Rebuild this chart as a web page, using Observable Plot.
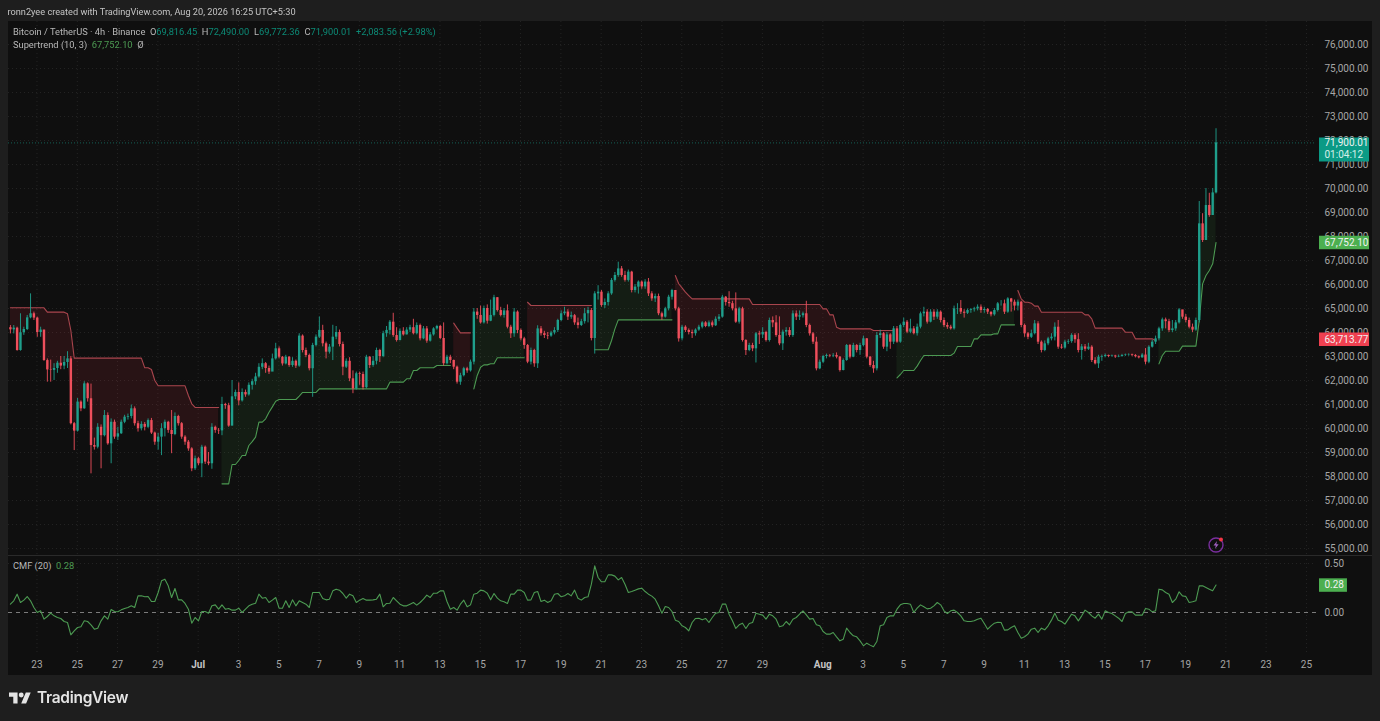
<!DOCTYPE html>
<html><head><meta charset="utf-8"><title>Bitcoin / TetherUS</title>
<script src="https://cdn.jsdelivr.net/npm/d3@7"></script>
<script src="https://cdn.jsdelivr.net/npm/@observablehq/plot@0.6"></script>
<style>
html,body{margin:0;padding:0;background:#1e1e1e;overflow:hidden}
#root{position:relative;width:1380px;height:721px;font-family:Roboto,sans-serif;color:#b8b8b8;font-size:9.3px;filter:blur(.3px)}
#pane{position:absolute;left:7.5px;top:21px;width:1364.5px;height:654px;background:#0f0f0f}
#sep{position:absolute;left:7.5px;top:555px;width:1364.5px;height:1px;background:#2a2a2a}
.plotbox{position:absolute;left:0}
.plotbox svg{display:block}
.t{position:absolute;white-space:pre;line-height:12px}
.g{color:#0c8a76}.s{color:#4c9a52}
#brand{position:absolute;left:37px;top:688px;font:600 15.5px Inter,Roboto,sans-serif;color:#e4e4e4;letter-spacing:-.3px;line-height:20px}
</style></head><body>
<div id="root">
  <div id="pane"></div>
  <div class="plotbox" id="mainBox" style="top:0"></div>
  <div class="plotbox" id="cmfBox" style="top:555px"></div>
  <div id="sep"></div>
  <div class="t" style="left:7.5px;top:5.5px;color:#c4c4c4;font-size:9.2px">ronn2yee created with TradingView.com, Aug 20, 2026 16:25 UTC+5:30</div>
  <div class="t" style="left:13px;top:25.5px">Bitcoin / TetherUS · 4h · Binance  O<span class="g">69,816.45</span>  H<span class="g">72,490.00</span>  L<span class="g">69,772.36</span>  C<span class="g">71,900.01</span>  <span class="g">+2,083.56 (+2.98%)</span></div>
  <div class="t" style="left:13px;top:38.5px">Supertrend (10, 3)  <span class="s">67,752.10</span>  Ø</div>
  <div class="t" style="left:13px;top:560px">CMF (20)  <span class="s">0.28</span></div>
  <svg style="position:absolute;left:9px;top:692px" width="22" height="12" viewBox="0 4 36 18"><path fill="#e4e4e4" d="M14 22H7V11H0V4h14v18zM28 22h-8l7.5-18h8L28 22z"/><circle fill="#e4e4e4" cx="20" cy="8" r="4"/></svg>
  <div id="brand">TradingView</div>
  <svg style="position:absolute;left:1206px;top:535px" width="20" height="20" viewBox="0 0 20 20"><circle cx="10" cy="10" r="7" fill="none" stroke="#7a2f9e" stroke-width="1.4"/><path d="M11 6 7.5 10.6h2.3L9 14l3.6-4.8h-2.3z" fill="#a060c0"/><circle cx="15" cy="4.5" r="2" fill="#f23645"/></svg>
</div>
<script>
const firstOpen = 64200;
const closes = [
64110,64180,63250,63990,64125,64610,64780,64600,64000,64100,
62830,62440,62420,62500,62720,62600,62750,62900,60200,59890,
61100,60820,61860,61240,59290,59220,60050,59700,60540,59360,
60260,59640,59780,60260,60470,60500,60820,60200,59990,60170,
60050,60330,59810,59430,59640,59990,60260,59920,59750,60500,
60200,59640,59430,59150,58320,58740,58530,59220,58600,58530,
60050,59920,59900,61000,60950,60100,61320,61500,61150,61500,
61400,61800,61950,62150,62550,62700,62500,62350,62900,63320,
62970,62690,62970,62625,62800,62600,63850,63250,63040,62490,
63460,63805,64085,63530,63180,63390,63805,64000,63500,62555,
62800,62070,61650,62280,62250,61700,62970,62625,62800,63250,
63000,63950,64085,64430,63875,63665,64050,63900,64100,64200,
63950,64290,63735,64150,63640,63900,64150,64250,63750,62700,
62970,62835,62555,61930,62200,62490,62400,62765,64850,64710,
64400,65000,64470,64710,65450,64915,64710,64900,64220,63945,
64850,64085,63735,63460,62765,63250,62695,64150,63950,63875,
63850,63980,64085,64500,64780,64850,64640,64700,64400,64290,
64450,64780,64915,63750,65610,65680,65125,65250,65610,66170,
66375,66650,66375,66170,66515,65750,65890,66100,65900,66100,
65610,65400,65500,64780,64640,64985,65470,65750,64985,63735,
64220,64085,64000,63950,64100,64220,64400,64250,64400,64280,
64550,64640,65470,65250,65200,64985,64430,64985,63666,63249,
63458,63319,63944,63900,64000,63666,64500,64400,63875,63527,
64014,64083,63875,64777,64638,64700,64780,64291,63944,63597,
62486,62760,63000,63041,63020,63041,62972,62416,62833,63458,
62972,63458,63250,63458,63736,62972,62625,62486,63875,63950,
63388,63900,63597,64152,63597,64291,64430,64014,64150,63950,
64222,64777,64847,64430,64847,64638,64847,64500,64291,64222,
64152,64985,65000,64847,64800,64916,64950,64985,65055,64916,
64960,64847,64736,64916,65194,65194,64847,65400,65263,65100,
65263,64291,63944,63800,63950,64360,63596,63250,63527,63735,
63805,64220,63388,63350,63596,63620,63880,63700,63250,63400,
63300,63388,62832,62693,62971,63000,63040,63000,63020,62980,
63000,63040,63060,63070,63040,62990,62943,63060,62763,63388,
63596,63735,64152,64527,64450,64083,64150,64400,64943,64638,
64499,64220,64100,64499,68527,67833,69291,68874,69816,71900];
const highs = [
64290,64290,64220,64780,64220,64710,65610,64850,64640,64220,
64100,62900,62850,62700,62800,63000,63000,63200,63000,60250,
61250,61150,61950,61900,61850,59600,60200,60150,60750,60650,
60400,60350,60050,60350,60550,60600,60980,60900,60300,60280,
60250,60400,60420,59850,59800,60200,60350,60300,60750,60650,
60550,60250,59700,59500,59200,58850,58800,59300,59270,59000,
60200,60100,60000,61300,61050,61050,62000,61600,61900,61650,
61600,61900,62050,62300,62700,62900,62750,62600,63100,63550,
63400,63000,63050,63000,62950,62850,63950,63900,63350,63100,
63550,63900,64650,64300,63600,63500,64300,64250,64100,63600,
62900,62950,62400,62350,62350,62350,63050,63000,63000,63350,
63300,64050,64250,64500,64800,64200,64150,64200,64200,64300,
64550,64400,64350,64250,64250,64000,64200,64300,64300,64400,
63050,63050,62850,62600,62300,62550,62550,62850,65000,65000,
65100,65100,65150,65350,65550,65450,65050,65000,65150,64300,
65000,64900,64150,63800,63500,63350,63300,64280,64250,64050,
64000,64050,64200,64550,64900,65050,64950,64850,64750,64600,
64550,65000,65050,65000,65700,65950,65750,65400,65700,66250,
66500,66930,66750,66550,66600,66550,66000,66150,66150,66200,
66250,65700,65600,65600,64850,65050,65550,65800,65500,65050,
64300,64280,64150,64100,64150,64300,64450,64450,64480,64480,
64650,64750,65550,65500,65700,65300,65650,65050,65050,63700,
63550,63550,64000,64050,64200,64050,64600,64650,64700,64650,
64100,64200,64200,64900,64900,64900,64850,65300,64350,64000,
63800,62850,63050,63100,63080,63120,63150,63000,62900,63500,
63500,63550,63500,63550,63850,63750,63000,62800,64000,64100,
64000,64000,63950,64250,64250,64350,64600,64500,64550,64250,
64350,64850,65050,64950,64950,64950,64950,64900,64600,64400,
64300,65100,65200,65330,64950,64980,65000,65050,65150,65150,
65050,65000,64850,65000,65250,65330,65350,65450,65420,65350,
65350,65300,64350,64000,64100,64500,64450,63650,63650,63800,
63950,64400,64500,63500,63680,63700,63950,63950,63950,63500,
63500,63550,63450,62950,63050,63060,63100,63060,63060,63050,
63060,63090,63100,63110,63100,63080,63020,63120,63330,63450,
63680,63850,64220,64600,64600,64550,64500,64500,65000,64900,
64750,64600,64350,64600,69458,68950,70000,69800,70000,72490];
const lows = [
63940,63940,63220,63220,63880,64080,64570,64500,63800,63800,
62800,61930,61930,62000,62300,62450,62450,62500,60150,59080,
59850,60700,60800,61100,58110,59100,59150,58320,59650,59300,
58530,59550,59500,59750,60200,60350,60400,60100,59850,59900,
59900,60000,59750,59300,59100,58870,59650,59800,58950,59700,
60100,59550,59300,59050,58200,58250,58450,57950,58500,58450,
58300,59800,59750,59700,60800,60050,60100,61200,60950,61100,
61300,61350,61600,61800,62100,62450,62300,62250,62400,62850,
62900,62600,62650,62550,62550,62500,62550,63150,62950,62400,
61300,63400,63750,63400,62900,63100,62830,63700,63400,62200,
62500,61950,61450,61600,61800,61600,61650,62500,62550,62650,
62750,62950,63800,63900,63800,63600,63650,63850,63900,64000,
63900,63900,63650,63700,63550,63600,63850,64100,63700,62600,
62650,62700,62450,61850,61800,62150,62300,62350,62650,64550,
64350,64350,64350,64450,64650,64850,64650,64600,64150,63750,
63800,63950,63650,63300,62700,62650,62550,62500,63850,63750,
63700,63800,63900,64000,64450,64700,64500,64550,64300,64150,
64250,64350,64400,63650,63100,65350,65050,65000,65100,65550,
66100,66300,66300,66100,66100,65650,65650,65600,65800,65800,
65500,65300,65250,64700,64500,64600,64900,65350,64900,63600,
63650,64000,63900,63750,63850,64050,64150,64200,64200,64200,
64250,64450,64600,65100,65050,64900,64380,64350,63600,63041,
63200,63200,62730,63500,63750,63600,63600,64200,63800,63450,
63250,63850,63800,63800,64500,64500,64600,64200,63850,63500,
62400,62450,62700,62900,62950,62950,62900,62350,62400,62800,
62900,62950,63150,63050,63400,62900,62550,62300,62400,63750,
63300,63200,63300,63500,63550,63550,64200,63950,63950,63900,
63850,64150,64650,64350,64400,64500,64550,64400,64200,64130,
64100,64100,64750,64750,64600,64750,64800,64850,64900,64800,
64800,64750,64650,64680,64850,65100,64750,64800,64850,64900,
64900,64200,63800,63700,63750,63900,63500,63150,63200,63450,
63650,63650,63300,63300,63300,63500,63550,63550,63150,62850,
63200,63250,62750,62650,62500,62800,62950,62950,62970,62920,
62950,62970,63000,63010,62990,62940,62900,62930,62650,62700,
63350,63500,63650,64050,64150,64000,64000,64050,64350,64550,
64400,64150,64000,64050,64400,67750,67900,68800,69100,69772];
const cmf = [
.085,.119,.187,.102,.126,.163,.119,.051,0,.017,
-.068,-.041,-.007,-.034,-.051,-.061,-.092,-.102,-.228,-.187,
-.153,-.146,-.085,-.092,-.126,-.17,-.16,-.085,-.034,-.068,
.031,.01,.007,.027,.041,.051,.068,.051,.17,.17,
.16,.163,.112,.112,.204,.323,.34,.272,.153,.245,
.129,.129,.092,.034,-.109,-.051,-.085,.01,.01,-.007,
.068,.078,.034,.078,.034,.041,.024,.024,.044,0,
.034,.068,.085,.095,.187,.146,.153,.102,.126,.153,
.044,.044,.119,.051,.129,.068,.119,.102,.085,.051,
.204,.204,.204,.143,.129,.136,.221,.238,.228,.194,
.146,.187,.17,.102,.126,.143,.126,.126,.129,.136,
.187,.058,.092,.095,.153,.119,.085,.068,.068,.085,
.102,.075,.102,.136,.177,.153,.197,.197,.221,.221,
.112,
.034,.051,.024,.085,.126,.058,.078,.187,.197,.228,
.221,.197,.129,.194,.146,.119,.109,.092,.187,.187,
.228,.228,.204,.126,.129,.204,.214,.112,.126,.102,
.119,.187,.194,.16,.17,.194,.17,.228,.146,.126,
.153,.16,.289,.476,.357,.313,.313,.384,.384,.371,
.333,.357,.289,.204,.214,.228,.241,.248,.214,.187,
.167,.136,.068,-.007,.061,.051,.01,-.078,-.092,-.136,
-.153,-.187,-.102,-.061,-.058,-.075,-.061,-.102,-.051,-.007,
0,.085,.085,-.017,-.085,-.163,-.126,-.109,-.163,-.112,
-.102,-.007,-.017,-.027,-.068,-.017,-.034,-.068,-.146,-.136,
-.092,-.126,-.068,-.051,-.017,.017,-.024,-.068,-.061,-.126,
-.136,-.194,-.221,-.221,-.204,-.248,-.289,-.272,-.16,-.204,
-.238,-.248,-.289,-.34,-.313,-.333,-.35,-.296,-.136,-.126,
-.051,-.034,-.034,.034,.078,.092,.092,.085,
0,.044,.078,.058,.037,.044,.068,.102,.078,.017,
-.01,.017,.024,0,-.034,-.085,-.092,-.092,-.085,-.068,
-.058,-.112,-.17,-.136,-.109,-.099,-.102,-.18,-.177,-.153,
-.136,-.204,-.262,-.248,-.221,-.17,-.16,-.204,-.16,-.177,
-.136,-.078,-.007,-.078,-.092,-.119,-.068,-.017,-.034,-.085,
-.034,.024,0,-.034,-.058,-.017,-.068,.017,0,-.01,
-.034,-.058,-.092,-.01,.007,.007,-.027,-.027,-.027,.041,
.034,.007,.017,.238,.231,.204,.187,.102,.136,.211,
.17,.163,.102,.109,.119,.272,.272,.255,.238,.221,.28];
// Supertrend: bar index where its level changes, and the level held from there on
const stStart = [0,11,17,18,19,40,42,43,44,53,54,55,
 63,66,68,69,71,72,73,74,76,77,78,79,80,86,87,92,113,118,120,122,127,
 132,133,134,
 138,139,140,141,143,145,
 154,155,
 174,179,180,181,
 198,199,200,201,202,203,221,242,244,246,247,257,
 264,265,266,270,271,272,281,282,287,289,293,295,
 300,301,302,304,305,307,320,322,323,332,335,341,
 342,343,344,349,354,355,356,357,358,359];
const stLevel = [65028,64847,64778,64083,62930,62528,62458,62000,61778,61375,61028,60875,
 57694,58500,58666,58875,59291,59450,59640,60264,60402,60680,60900,61139,61208,61350,61500,61652,61930,62070,62415,62530,62625,
 64390,64180,63985,
 61650,62210,62555,62650,62695,62945,
 65260,65125,
 63280,63666,64150,64527,
 66375,66030,65860,65680,65540,65400,65166,64985,64736,64222,64152,64083,
 62110,62250,62416,62600,62833,63041,63139,63416,63736,63900,63944,64319,
 65750,65400,65263,65221,65100,64846,64735,64569,64180,64013,63735,63666,
 62693,63040,63221,63430,64499,66027,66374,66583,66860,67752];
const stSegStart = [0,63,132,138,154,174,198,264,300,342];
const stSegUp = [false,true,false,true,false,true,false,true,false,true];

const priceTicks = d3.range(55000,76001,1000);
const dayTicks = ["06-23","06-25","06-27","06-29","07-03","07-05","07-07","07-09","07-11","07-13","07-15","07-17","07-19","07-21","07-23","07-25","07-27","07-29","08-03","08-05","08-07","08-09","08-11","08-13","08-15","08-17","08-19","08-21","08-23","08-25"];
const monthTicks = ["07-01","08-01"];
const cmfTicks = [0,0.5];

const UP="#1f9f8c", DOWN="#ef4f5c", ST_UP="#4c9a52", ST_DOWN="#a8454d", AXIS="#a6a6a6", GRID="#242424";
const FONT={fontFamily:"Roboto,sans-serif",fontSize:"10px",background:"transparent"};
const d=s=>new Date(`2026-${s}T00:00Z`);
const barStep=4*3600e3, t0=Date.UTC(2026,5,21,16,20);
const xDomain=[new Date("2026-06-21T14:04Z"),new Date("2026-08-25T12:00Z")];
const badgeX1=new Date("2026-08-25T15:34Z"), badgeX2=new Date("2026-08-28T03:10Z"), badgeX3=new Date("2026-08-27T00:52Z");
const allDates=[...dayTicks,...monthTicks].map(d);

let open=firstOpen;
const bars=closes.map((c,i)=>{
  const segIdx=d3.bisectRight(stSegStart,i)-1;
  const st=stLevel[d3.bisectRight(stStart,i)-1];
  const b={date:new Date(t0+i*barStep),open,high:highs[i],low:lows[i],close:c,cmf:cmf[i],st,seg:segIdx,up:stSegUp[segIdx]};
  open=c;return b;
});
const upBars=bars.filter(b=>b.close>=b.open), downBars=bars.filter(b=>b.close<b.open);
const trendUp=bars.filter(b=>b.up), trendDown=bars.filter(b=>!b.up);
const mid=b=>(b.open+b.close)/2;

const main=Plot.plot({
  width:1380,height:555,marginTop:21,marginBottom:0,marginLeft:8,marginRight:64,style:FONT,
  x:{type:"utc",domain:xDomain,axis:null},
  y:{domain:[54708,76958],axis:null},
  marks:[
    Plot.ruleX(allDates,{stroke:GRID,strokeDasharray:"1,3"}),
    Plot.ruleY(priceTicks,{stroke:GRID,strokeDasharray:"1,3"}),
    Plot.ruleY([71900],{stroke:"#155e54",strokeDasharray:"1,2"}),
    Plot.areaY(trendDown,{x:"date",y1:"st",y2:mid,z:"seg",fill:"#f23645",fillOpacity:.11}),
    Plot.areaY(trendUp,{x:"date",y1:"st",y2:mid,z:"seg",fill:"#4caf50",fillOpacity:.09}),
    Plot.lineY(trendDown,{x:"date",y:"st",z:"seg",stroke:ST_DOWN,strokeWidth:1.1}),
    Plot.lineY(trendUp,{x:"date",y:"st",z:"seg",stroke:ST_UP,strokeWidth:1.1}),
    Plot.ruleX(upBars,{x:"date",y1:"low",y2:"high",stroke:UP,strokeWidth:.9}),
    Plot.ruleX(downBars,{x:"date",y1:"low",y2:"high",stroke:DOWN,strokeWidth:.9}),
    Plot.ruleX(upBars,{x:"date",y1:"open",y2:"close",stroke:UP,strokeWidth:2.4}),
    Plot.ruleX(downBars,{x:"date",y1:"open",y2:"close",stroke:DOWN,strokeWidth:2.4}),
    Plot.axisY(priceTicks,{anchor:"right",tickSize:0,tickPadding:8,tickFormat:d3.format(",.2f"),fill:AXIS,label:null}),
    Plot.ruleY([71900],{x1:badgeX1,x2:badgeX2,dy:6.5,strokeWidth:24,stroke:"#0b9a85"}),
    Plot.ruleY([67752.10],{x1:badgeX1,x2:badgeX2,strokeWidth:13.5,stroke:"#4caf50"}),
    Plot.ruleY([63713.77],{x1:badgeX1,x2:badgeX2,strokeWidth:13.5,stroke:"#ef4050"}),
    Plot.text([71900],{x:badgeX1,y:d=>d,text:d=>d3.format(",.2f")(d+0.01),textAnchor:"start",dx:5,fill:"#f2f2f2"}),
    Plot.text([71900],{x:badgeX1,y:d=>d,text:()=>"01:04:12",textAnchor:"start",dx:5,dy:12,fill:"#d6f0ea"}),
    Plot.text([67752.10,63713.77],{x:badgeX1,y:d=>d,text:d=>d3.format(",.2f")(d),textAnchor:"start",dx:5,fill:"#f2f2f2"})
  ]
});
document.getElementById("mainBox").append(main);

const pane=Plot.plot({
  width:1380,height:120,marginTop:0,marginBottom:20,marginLeft:8,marginRight:64,style:FONT,
  x:{type:"utc",domain:xDomain,axis:null},
  y:{domain:[-.4388,.5816],axis:null},
  marks:[
    Plot.ruleX(allDates,{stroke:GRID,strokeDasharray:"1,3"}),
    Plot.ruleY([.5],{stroke:GRID,strokeDasharray:"1,3"}),
    Plot.ruleY([0],{stroke:"#7d7d7d",strokeDasharray:"4,4"}),
    Plot.lineY(bars,{x:"date",y:"cmf",stroke:ST_UP,strokeWidth:1.1}),
    Plot.axisX(dayTicks.map(d),{anchor:"bottom",tickSize:0,tickPadding:5,tickFormat:v=>v.getUTCDate(),fill:AXIS,label:null}),
    Plot.axisX(monthTicks.map(d),{anchor:"bottom",tickSize:0,tickPadding:5,tickFormat:d3.utcFormat("%b"),fill:"#c4c4c4",fontWeight:"bold",label:null}),
    Plot.axisY(cmfTicks,{anchor:"right",tickSize:0,tickPadding:8,tickFormat:d3.format(".2f"),fill:AXIS,label:null}),
    Plot.ruleY([.28],{x1:badgeX1,x2:badgeX3,strokeWidth:13.5,stroke:"#4caf50"}),
    Plot.text([.28],{x:badgeX1,y:d=>d,text:d=>d3.format(".2f")(d),textAnchor:"start",dx:5,fill:"#f2f2f2"})
  ]
});
document.getElementById("cmfBox").append(pane);
</script>
</body></html>
